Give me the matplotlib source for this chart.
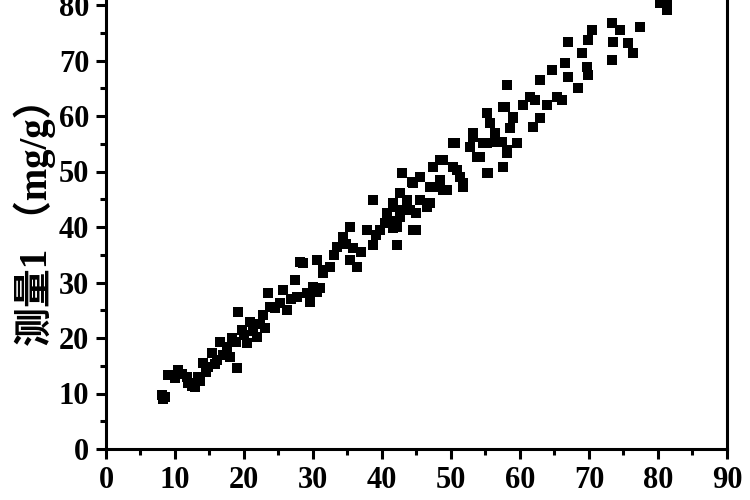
import numpy as np
import matplotlib.pyplot as plt

# 数据点
x_vals = [8.1, 8.3, 8.6, 9.0, 10.0, 10.4, 11.0, 11.7, 11.9, 12.4, 12.9, 13.3, 13.6,
          14.1, 14.5, 14.8, 15.4, 15.8, 16.1, 16.5, 17.0, 17.5, 18.0, 18.3, 18.8,
          19.0, 19.1, 19.7, 20.0, 20.4, 20.9, 21.3, 21.9, 22.3, 22.8, 23.0, 23.5,
          23.8, 24.5, 25.2, 25.7, 26.2, 26.8, 27.4, 27.7, 28.1, 28.6, 29.1, 29.6,
          30.0, 30.6, 30.6, 31.0, 31.4, 31.4, 32.5, 33.0, 33.5, 34.3, 34.8, 35.4,
          35.4, 35.8, 36.4, 37.0, 37.8, 38.7, 38.7, 39.2, 39.7, 40.4, 40.7, 40.7,
          41.2, 41.6, 41.6, 41.6, 42.2, 42.2, 42.6, 42.6, 42.9, 43.0, 43.6, 44.0,
          44.3, 44.5, 44.5, 45.0, 45.0, 45.5, 45.5, 46.5, 47.0, 47.0, 47.4, 47.4,
          48.4, 48.4, 48.8, 48.8, 49.4, 50.3, 50.3, 50.6, 50.9, 51.3, 51.7, 51.7,
          52.8, 53.2, 53.2, 53.8, 54.2, 54.6, 55.2, 55.2, 55.2, 55.4, 55.7, 56.4,
          56.7, 57.4, 57.5, 57.5, 57.8, 58.1, 58.1, 58.1, 58.6, 59.0, 59.0, 59.6,
          60.5, 61.4, 61.9, 62.2, 62.9, 62.9, 63.9, 64.6, 65.3, 66.1, 66.5, 67.0,
          67.0, 68.4, 69.0, 69.7, 69.9, 69.9, 70.4, 73.3, 73.3, 73.5, 74.5, 75.7,
          76.4, 77.4, 80.3, 81.3, 81.3]
y_vals = [9.8, 9.0, 9.4, 13.3, 12.8, 14.2, 13.5, 13.0, 11.9, 11.4, 11.2, 13.0, 12.2,
          15.5, 13.8, 14.8, 17.3, 15.3, 16.0, 19.3, 17.0, 18.4, 16.6, 20.0, 19.2,
          14.6, 24.7, 21.4, 20.5, 19.1, 22.9, 21.2, 20.2, 22.5, 24.1, 21.8, 28.1,
          25.6, 25.4, 26.3, 28.6, 25.0, 27.0, 30.5, 27.4, 33.7, 33.5, 28.1, 26.5,
          29.2, 34.0, 28.3, 29.0, 32.3, 31.7, 32.8, 35.0, 36.4, 38.2, 37.0, 40.0,
          34.0, 36.2, 32.8, 35.5, 39.5, 44.9, 36.8, 38.6, 39.5, 40.7, 41.8, 42.5,
          41.0, 43.6, 39.8, 44.3, 36.8, 40.0, 46.1, 41.8, 49.7, 43.1, 44.9, 43.1,
          48.1, 47.9, 39.5, 39.5, 42.5, 44.9, 49.0, 43.6, 47.2, 44.3, 50.8, 47.2,
          52.1, 48.5, 46.7, 52.1, 46.7, 55.1, 50.8, 55.1, 50.3, 49.0, 47.9, 47.2,
          54.4, 56.2, 56.9, 52.6, 52.6, 55.1, 55.1, 60.5, 49.7, 49.7, 58.7, 56.9,
          55.3, 55.3, 61.6, 50.8, 61.6, 65.6, 53.3, 53.9, 57.8, 59.6, 59.8, 55.1,
          62.0, 63.5, 58.0, 62.9, 66.5, 59.6, 62.0, 68.3, 63.5, 62.9, 69.5, 73.4,
          67.0, 65.0, 71.3, 68.9, 73.7, 67.4, 75.5, 76.7, 70.1, 73.4, 75.5, 73.1,
          71.3, 76.0, 80.4, 80.5, 79.1]

x_ticks = np.arange(0, 91, 10)
y_ticks = np.arange(0, 81, 10)

fig = plt.figure(figsize=(7.5, 5), dpi=100)
ax = fig.add_axes([0.1413, 0.102, 0.828, 0.9435])

ax.scatter(x_vals, y_vals, marker='s', s=62, c='black', linewidths=0, zorder=3)

ax.set_xlim(0, 90)
ax.set_ylim(0, 85)
ax.set_xticks(x_ticks)
ax.set_yticks(y_ticks)
ax.set_xticks(np.arange(5, 90, 10), minor=True)
ax.set_yticks(np.arange(5, 85, 10), minor=True)

for s in ax.spines.values():
    s.set_linewidth(2.2)

ax.tick_params(which='major', direction='out', length=7, width=2.2, pad=5)
ax.tick_params(which='minor', direction='out', length=4, width=2.2)

for lab in ax.get_xticklabels() + ax.get_yticklabels():
    lab.set_fontfamily('Liberation Serif')
    lab.set_fontweight('bold')
    lab.set_fontsize(22)

ax.set_ylabel('测量1 （mg/g）', fontsize=28, fontweight='bold',
              family=['Liberation Serif', 'Noto Sans CJK SC'], labelpad=2)

fig.savefig('out.png', dpi=100)
